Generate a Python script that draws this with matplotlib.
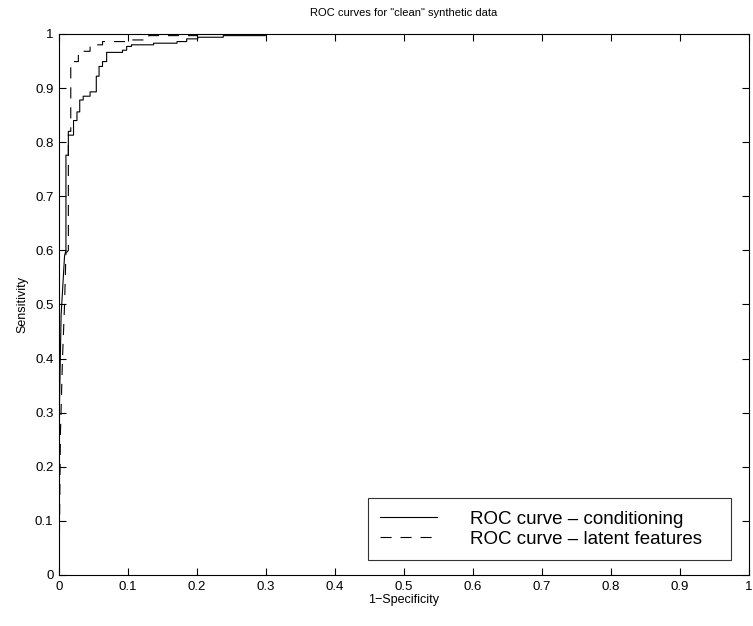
import matplotlib
matplotlib.use("Agg")
import matplotlib.pyplot as plt

plt.rcParams['font.family'] = ['Liberation Sans', 'DejaVu Sans']

# ROC curve - conditioning (solid)
cond_fpr = [0.0, 0.0, 0.003, 0.008, 0.010, 0.010, 0.0135, 0.0135, 0.021, 0.021, 0.026, 0.026,
            0.030, 0.030, 0.035, 0.035, 0.045, 0.045, 0.054, 0.054, 0.058, 0.058, 0.063, 0.063,
            0.069, 0.069, 0.092, 0.092, 0.098, 0.098, 0.105, 0.105, 0.137, 0.137, 0.171, 0.171,
            0.185, 0.185, 0.201, 0.201, 0.238, 0.238, 0.299, 0.299, 1.0]
cond_tpr = [0.0, 0.27, 0.48, 0.59, 0.60, 0.776, 0.776, 0.813, 0.813, 0.84, 0.84, 0.856,
            0.856, 0.878, 0.878, 0.885, 0.885, 0.893, 0.893, 0.922, 0.922, 0.94, 0.94, 0.949,
            0.949, 0.966, 0.966, 0.970, 0.970, 0.977, 0.977, 0.980, 0.980, 0.983, 0.983, 0.986,
            0.986, 0.991, 0.991, 0.994, 0.994, 0.997, 0.997, 1.0, 1.0]

# ROC curve - latent features (dashed)
lat_fpr = [0.0, 0.002, 0.005, 0.008, 0.010, 0.0135, 0.0135, 0.017, 0.017, 0.020, 0.020,
           0.028, 0.028, 0.045, 0.045, 0.063, 0.063, 0.095, 0.095, 0.130, 0.130, 0.20, 0.20, 0.24, 1.0]
lat_tpr = [0.0, 0.26, 0.40, 0.50, 0.595, 0.60, 0.82, 0.82, 0.94, 0.94, 0.949,
           0.949, 0.968, 0.968, 0.980, 0.980, 0.986, 0.986, 0.989, 0.989, 0.997, 0.997, 0.999, 1.0, 1.0]

fig = plt.figure(figsize=(7.53, 6.26), dpi=100)
ax = fig.add_axes([0.0784, 0.0815, 0.9163, 0.8642])

ax.plot(cond_fpr, cond_tpr, color='black', linewidth=0.8, linestyle='-', label='ROC curve \u2013 conditioning')
ax.plot(lat_fpr, lat_tpr, color='black', linewidth=0.8, linestyle=(0, (10, 8)), label='ROC curve \u2013 latent features')

ax.set_xlim(0, 1)
ax.set_ylim(0, 1)
ticks = [0, 0.1, 0.2, 0.3, 0.4, 0.5, 0.6, 0.7, 0.8, 0.9, 1]
labels = ['0', '0.1', '0.2', '0.3', '0.4', '0.5', '0.6', '0.7', '0.8', '0.9', '1']
ax.set_xticks(ticks)
ax.set_xticklabels(labels)
ax.set_yticks(ticks)
ax.set_yticklabels(labels)
ax.tick_params(direction='in', length=5, width=0.8, labelsize=9.5, top=True, right=True, pad=4)
for s in ax.spines.values():
    s.set_linewidth(0.8)

ax.set_xlabel('1\u2212Specificity', fontsize=9, labelpad=1)
ax.set_ylabel('Sensitivity', fontsize=9, labelpad=5)
ax.set_title('ROC curves for "clean" synthetic data', fontsize=8, pad=13)

leg = ax.legend(loc='lower left', bbox_to_anchor=(0.448, 0.028, 0.526, 0.114), mode='expand',
                fontsize=13.5, frameon=True, fancybox=False, edgecolor='black',
                handlelength=3.0, handletextpad=1.8, borderpad=0.65, labelspacing=0.15,
                borderaxespad=0)
leg.get_frame().set_linewidth(0.8)

fig.savefig('out.png', dpi=100)
